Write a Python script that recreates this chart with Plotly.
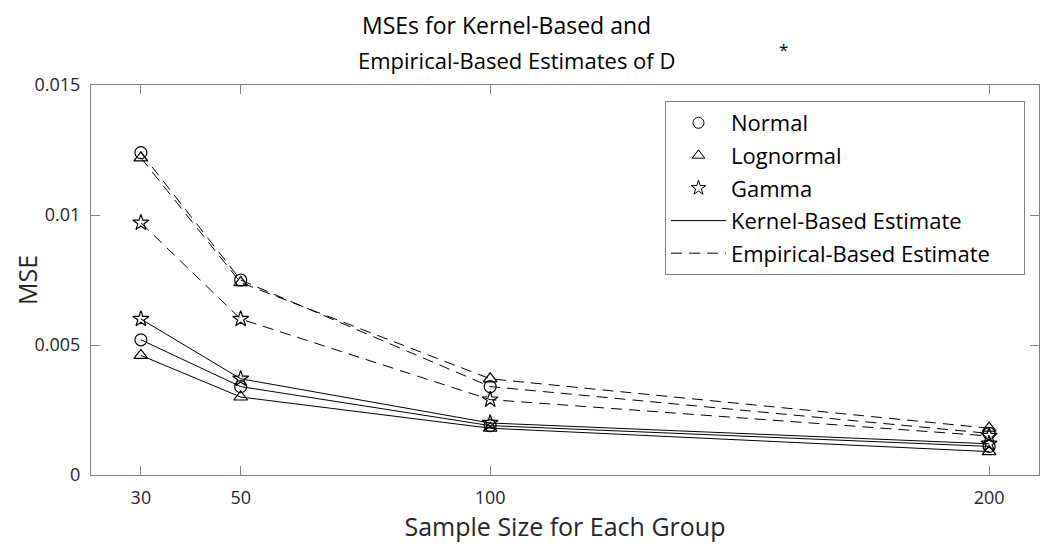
import plotly.graph_objects as go

sample_sizes = [30, 50, 100, 200]
distributions = ["Normal", "Lognormal", "Gamma"]
symbols = ["circle-open", "triangle-up-open", "star-open"]

kernel_normal = [0.0052, 0.0034, 0.0019, 0.0011]
kernel_lognormal = [0.0046, 0.0030, 0.0018, 0.0009]
kernel_gamma = [0.0060, 0.0037, 0.0020, 0.0012]

emp_normal = [0.0124, 0.0075, 0.0034, 0.0016]
emp_lognormal = [0.0122, 0.0074, 0.0037, 0.0018]
emp_gamma = [0.0097, 0.0060, 0.0029, 0.0015]

y_tickvals = [0, 0.005, 0.01, 0.015]
y_ticktext = ["0", "0.005", "0.01", "0.015"]
x_tickvals = [30, 50, 100, 200]

FONT = "Open Sans"
AXC = "#808080"
TXT = "#262626"
PAD = "\u00a0" * 5

# page body has an 8px margin; size figure so plot area lands where the reference has it
W, H = 1042, 539
ML, MR, MT, MB = 83, 11, 77, 72
PW = W - ML - MR
PH = H - MT - MB


def px(xpix):
    return (xpix - 8 - ML) / PW


def py(ypix):
    return (H - MB - (ypix - 8)) / PH


fig = go.Figure()

kernel = [kernel_normal, kernel_lognormal, kernel_gamma]
emp = [emp_normal, emp_lognormal, emp_gamma]

for vals, sym in zip(kernel, symbols):
    fig.add_trace(go.Scatter(x=sample_sizes, y=vals, mode="lines+markers",
                             line=dict(color="black", width=1),
                             marker=dict(symbol=sym, size=12, color="black", line=dict(width=1.2)),
                             showlegend=False))
for vals, sym in zip(emp, symbols):
    fig.add_trace(go.Scatter(x=sample_sizes, y=vals, mode="lines+markers",
                             line=dict(color="black", width=1, dash="11px,7px"),
                             marker=dict(symbol=sym, size=12, color="black", line=dict(width=1.2)),
                             showlegend=False))

# legend entries
for name, sym in zip(distributions, symbols):
    fig.add_trace(go.Scatter(x=[None], y=[None], mode="markers", name=name, legendgroup=name,
                             marker=dict(symbol=sym, size=11, color="black", line=dict(width=1))))
fig.add_trace(go.Scatter(x=[None], y=[None], mode="lines", name="Kernel-Based Estimate",
                         legendgroup="k", line=dict(color="black", width=1)))
fig.add_trace(go.Scatter(x=[None], y=[None], mode="lines", name="Empirical-Based Estimate" + PAD,
                         legendgroup="e", line=dict(color="black", width=1, dash="11px,7px")))

fig.update_layout(
    width=W, height=H,
    margin=dict(l=ML, r=MR, t=MT, b=MB),
    paper_bgcolor="white", plot_bgcolor="white",
    font=dict(family=FONT, color=TXT, size=17),
    showlegend=True,
    legend=dict(x=px(665), y=py(101), xanchor="left", yanchor="top",
                bordercolor=AXC, borderwidth=1, bgcolor="white",
                font=dict(size=22, color="black", family=FONT),
                tracegroupgap=1, itemwidth=55),
    xaxis=dict(range=[20, 210], tickvals=x_tickvals, ticks="inside", ticklen=9,
               tickcolor=AXC, showline=True, linecolor=AXC, linewidth=1, mirror="ticks",
               showgrid=False, zeroline=False, ticklabelstandoff=6, automargin=False,
               title=dict(text="Sample Size for Each Group", font=dict(size=25, color=TXT), standoff=5),
               tickfont=dict(size=18, color=TXT)),
    yaxis=dict(range=[0, 0.015], tickvals=y_tickvals, ticktext=y_ticktext, ticks="inside",
               ticklen=9, tickcolor=AXC, showline=True, linecolor=AXC, linewidth=1,
               mirror="ticks", showgrid=False, zeroline=False, ticklabelstandoff=6,
               automargin=False,
               tickfont=dict(size=18, color=TXT)),
    annotations=[
        dict(text="MSEs for Kernel-Based and", xref="paper", yref="paper",
             x=px(506), y=py(8), xanchor="center", yanchor="top", borderpad=0,
             showarrow=False, font=dict(size=23, color="black", family=FONT)),
        dict(text="Empirical-Based Estimates of D", xref="paper", yref="paper",
             x=px(516), y=py(60), xanchor="center", yanchor="middle",
             showarrow=False, font=dict(size=22, color="black", family=FONT)),
        dict(text="*", xref="paper", yref="paper",
             x=px(783), y=py(49), xanchor="center", yanchor="middle",
             showarrow=False, font=dict(size=17, color="black", family=FONT)),
        dict(text="MSE", xref="paper", yref="paper", textangle=-90,
             x=px(9), y=py(280), xanchor="left", yanchor="middle", borderpad=0,
             showarrow=False, font=dict(size=25, color=TXT, family=FONT)),
    ],
)

fig.write_html("out.html")
